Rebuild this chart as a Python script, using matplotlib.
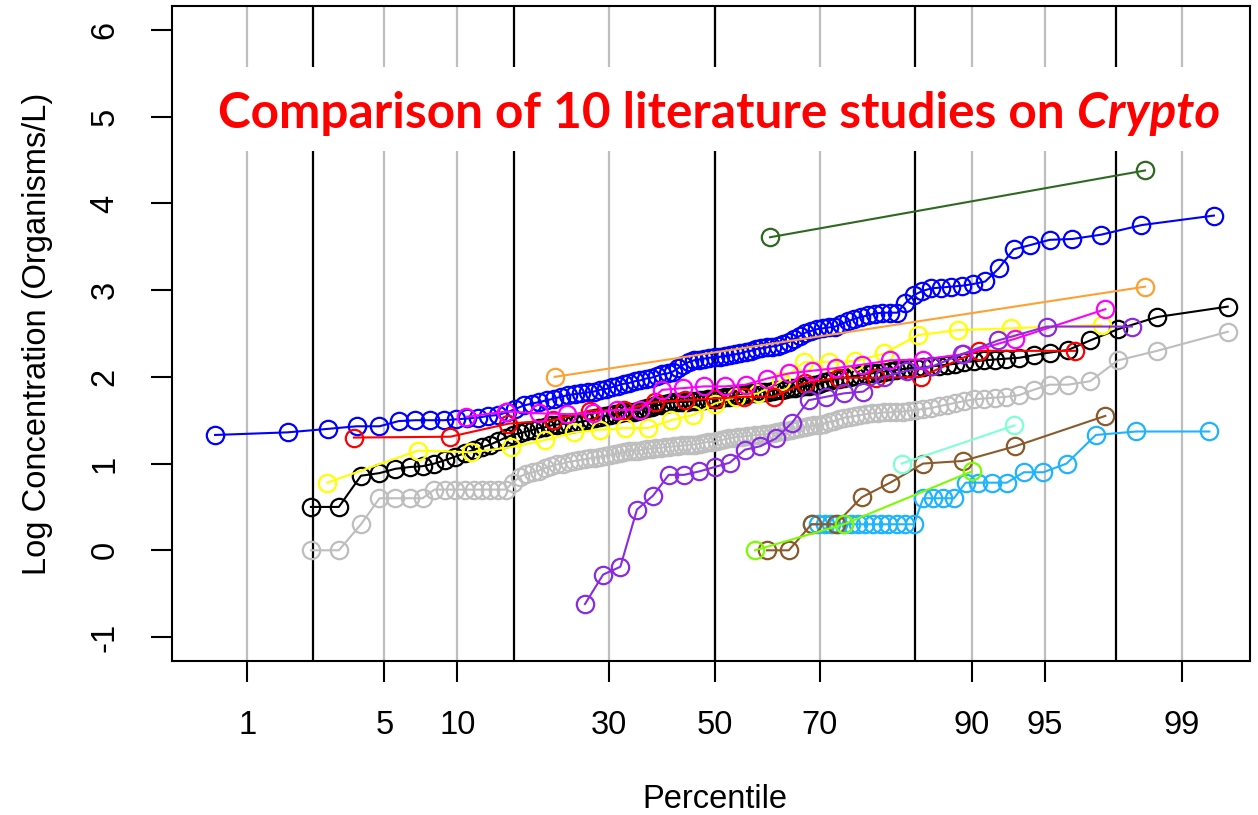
import matplotlib
matplotlib.use("Agg")
import matplotlib.pyplot as plt
from matplotlib.patches import Rectangle
from statistics import NormalDist

# ---------------- data ----------------
pct_ticks = [1, 5, 10, 30, 50, 70, 90, 95, 99]
pct_tick_labels = ["1", "5", "10", "30", "50", "70", "90", "95", "99"]
y_ticks = [-1, 0, 1, 2, 3, 4, 5, 6]

# Series plotted at Blom plotting positions: sample size n, first plotted rank, sorted values
blue_n, blue_first = 97, 1
blue_vals = [1.33, 1.36, 1.40, 1.43, 1.43, 1.49, 1.50, 1.50, 1.50, 1.51,
             1.52, 1.53, 1.55, 1.56, 1.59, 1.63, 1.67, 1.69, 1.71, 1.73,
             1.75, 1.77, 1.79, 1.80, 1.81, 1.82, 1.83, 1.85, 1.86, 1.88,
             1.90, 1.92, 1.93, 1.95, 1.96, 1.98, 1.99, 2.01, 2.03, 2.04,
             2.06, 2.10, 2.14, 2.17, 2.19, 2.20, 2.21, 2.22, 2.23, 2.23,
             2.24, 2.25, 2.26, 2.27, 2.29, 2.30, 2.32, 2.33, 2.34, 2.35,
             2.36, 2.38, 2.40, 2.44, 2.47, 2.51, 2.53, 2.55, 2.56, 2.57,
             2.58, 2.61, 2.64, 2.67, 2.69, 2.71, 2.73, 2.74, 2.74, 2.74,
             2.85, 2.94, 2.99, 3.02, 3.03, 3.04, 3.05, 3.07, 3.10, 3.25,
             3.47, 3.52, 3.58, 3.59, 3.64, 3.75, 3.86]

black_n, black_first = 118, 3
black_vals = [0.50, 0.50, 0.86, 0.89, 0.94, 0.96, 0.97, 1.00, 1.04, 1.08,
              1.12, 1.16, 1.19, 1.22, 1.26, 1.30, 1.33, 1.35, 1.37, 1.39,
              1.41, 1.42, 1.44, 1.45, 1.46, 1.46, 1.47, 1.48, 1.49, 1.51,
              1.52, 1.54, 1.55, 1.56, 1.57, 1.58, 1.59, 1.60, 1.60, 1.61,
              1.63, 1.64, 1.65, 1.67, 1.68, 1.69, 1.70, 1.71, 1.71, 1.71,
              1.71, 1.72, 1.72, 1.73, 1.73, 1.74, 1.75, 1.75, 1.76, 1.77,
              1.77, 1.78, 1.79, 1.79, 1.80, 1.81, 1.81, 1.82, 1.83, 1.83,
              1.84, 1.85, 1.85, 1.86, 1.87, 1.87, 1.88, 1.89, 1.90, 1.91,
              1.92, 1.94, 1.95, 1.97, 1.98, 1.99, 2.00, 2.01, 2.02, 2.03,
              2.04, 2.05, 2.06, 2.07, 2.08, 2.09, 2.10, 2.10, 2.11, 2.12,
              2.13, 2.14, 2.15, 2.17, 2.18, 2.19, 2.20, 2.21, 2.22, 2.25,
              2.28, 2.31, 2.42, 2.55, 2.69, 2.81]

gray_n, gray_first = 118, 3
gray_vals = [0.00, 0.00, 0.30, 0.60, 0.60, 0.60, 0.60, 0.70, 0.70, 0.70,
             0.70, 0.70, 0.70, 0.70, 0.70, 0.70, 0.78, 0.85, 0.88, 0.90,
             0.92, 0.95, 0.97, 0.99, 1.00, 1.02, 1.03, 1.04, 1.05, 1.06,
             1.07, 1.08, 1.09, 1.10, 1.11, 1.12, 1.13, 1.14, 1.15, 1.15,
             1.16, 1.17, 1.17, 1.18, 1.18, 1.19, 1.19, 1.20, 1.20, 1.21,
             1.21, 1.22, 1.22, 1.23, 1.24, 1.25, 1.25, 1.26, 1.27, 1.28,
             1.29, 1.30, 1.31, 1.31, 1.32, 1.32, 1.33, 1.33, 1.34, 1.34,
             1.35, 1.36, 1.37, 1.38, 1.39, 1.40, 1.41, 1.42, 1.43, 1.44,
             1.45, 1.46, 1.48, 1.49, 1.51, 1.53, 1.54, 1.55, 1.56, 1.57,
             1.58, 1.58, 1.59, 1.59, 1.60, 1.60, 1.61, 1.62, 1.63, 1.64,
             1.66, 1.68, 1.70, 1.72, 1.74, 1.75, 1.76, 1.77, 1.79, 1.85,
             1.91, 1.91, 1.95, 2.19, 2.30, 2.52]

red_n, red_first = 17, 1
red_vals = [1.30, 1.31, 1.46, 1.50, 1.61, 1.62, 1.71, 1.73, 1.75, 1.77,
            1.77, 1.93, 1.99, 1.99, 2.00, 2.30, 2.30]

yellow_n, yellow_first = 23, 1
yellow_vals = [0.78, 1.15, 1.13, 1.19, 1.27, 1.36, 1.39, 1.41, 1.41, 1.50,
               1.56, 1.69, 1.77, 1.81, 1.95, 2.17, 2.17, 2.18, 2.27, 2.48,
               2.54, 2.56, 2.60]

magenta_n, magenta_first = 24, 3
magenta_vals = [1.54, 1.60, 1.58, 1.57, 1.58, 1.62, 1.62, 1.85, 1.87, 1.89,
                1.89, 1.91, 1.98, 2.04, 2.07, 2.10, 2.14, 2.19, 2.20, 2.26,
                2.44, 2.78]

purple_n, purple_first = 33, 9
purple_vals = [-0.62, -0.28, -0.19, 0.47, 0.63, 0.87, 0.87, 0.91, 0.96, 1.01,
               1.16, 1.20, 1.29, 1.47, 1.73, 1.77, 1.81, 1.83, 2.00, 2.07,
               2.12, 2.26, 2.42, 2.58, 2.58]

skyblue_n, skyblue_first = 91, 63
skyblue_vals = [0.30, 0.30, 0.30, 0.30, 0.30, 0.30, 0.30, 0.30, 0.30, 0.30,
                0.30, 0.30, 0.30, 0.30, 0.30, 0.60, 0.60, 0.60, 0.60, 0.78,
                0.78, 0.78, 0.78, 0.90, 0.90, 1.00, 1.33, 1.37, 1.37]

brown_n, brown_first = 24, 15
brown_vals = [0.00, 0.00, 0.30, 0.30, 0.61, 0.78, 1.00, 1.03, 1.20, 1.55]

lawngreen_n, lawngreen_first = 6, 4
lawngreen_vals = [0.00, 0.30, 0.91]

aqua_n, aqua_first = 9, 8
aqua_vals = [1.00, 1.44]

# Series given directly as percentiles
orange_pct = [21.3, 98.4]
orange_vals = [2.00, 3.04]
darkgreen_pct = [60.9, 98.4]
darkgreen_vals = [3.61, 4.38]

# ---------------- helpers ----------------
_nd = NormalDist()


def probit(p):
    return _nd.inv_cdf(p / 100.0)


def blom_pct(n, first, count):
    return [100.0 * (r - 0.375) / (n + 0.25) for r in range(first, first + count)]


# ---------------- figure ----------------
W, H = 1258, 815
fig = plt.figure(figsize=(W / 100, H / 100), dpi=100)
ax_left, ax_right, ax_top, ax_bottom = 172, 1250, 5.7, 661.3
ax = fig.add_axes([ax_left / W, 1 - ax_bottom / H,
                   (ax_right - ax_left) / W, (ax_bottom - ax_top) / H])

# probit scale: z = (px - 714.5) / 200.75
ax.set_xlim((ax_left - 714.5) / 200.75, (ax_right - 714.5) / 200.75)
ax.set_ylim(-1.28, 6.28)

# reference lines
for p in pct_ticks:
    ax.axvline(probit(p), color="#BEBEBE", lw=1.6, zorder=1)
for z in [-2, -1, 0, 1, 2]:
    ax.axvline(z, color="black", lw=1.6, zorder=1.5)

mk = dict(marker="o", markerfacecolor="none", markersize=12.5,
          markeredgewidth=1.6, linewidth=1.5)


def draw(pcts, vals, color, z):
    xs = [probit(p) for p in pcts]
    ax.plot(xs, vals, color=color, markeredgecolor=color, zorder=z, **mk)


series = [
    (blom_pct(gray_n, gray_first, len(gray_vals)), gray_vals, "#BEBEBE"),
    (blom_pct(black_n, black_first, len(black_vals)), black_vals, "black"),
    (blom_pct(blue_n, blue_first, len(blue_vals)), blue_vals, "#0000FF"),
    (blom_pct(yellow_n, yellow_first, len(yellow_vals)), yellow_vals, "#FFFF00"),
    (blom_pct(red_n, red_first, len(red_vals)), red_vals, "#FF0000"),
    (blom_pct(magenta_n, magenta_first, len(magenta_vals)), magenta_vals, "#FF00FF"),
    (blom_pct(purple_n, purple_first, len(purple_vals)), purple_vals, "#8A2BE2"),
    (orange_pct, orange_vals, "#FFA030"),
    (darkgreen_pct, darkgreen_vals, "#2D6A1F"),
    (blom_pct(skyblue_n, skyblue_first, len(skyblue_vals)), skyblue_vals, "#1EB4FF"),
    (blom_pct(brown_n, brown_first, len(brown_vals)), brown_vals, "#8B5A2B"),
    (blom_pct(lawngreen_n, lawngreen_first, len(lawngreen_vals)), lawngreen_vals, "#7CFC00"),
    (blom_pct(aqua_n, aqua_first, len(aqua_vals)), aqua_vals, "#7FFFD4"),
]
for i, (p, v, c) in enumerate(series):
    draw(p, v, c, 3 + i * 0.01)

# axes styling
for s in ax.spines.values():
    s.set_linewidth(1.5)
    s.set_color("black")
    s.set_zorder(10)

fs = 23.5
ax.set_xticks([probit(p) for p in pct_ticks])
ax.set_xticklabels(pct_tick_labels, fontsize=fs, family="Liberation Sans")
ax.set_yticks(y_ticks)
ax.set_yticklabels([str(v) for v in y_ticks], fontsize=fs, family="Liberation Sans",
                   rotation=90, va="center")
ax.tick_params(axis="x", length=15, width=1.5, pad=20, top=False)
ax.tick_params(axis="y", length=15, width=1.5, pad=22, right=False)

fig.text(714.5 / W, 1 - 800 / H, "Percentile", fontsize=fs, family="Liberation Sans",
         ha="center", va="center")
fig.text(38 / W, 1 - 333.5 / H, "Log Concentration (Organisms/L)", fontsize=fs,
         family="Liberation Sans", rotation=90, ha="center", va="center")

# title with white backing box
ax.add_patch(Rectangle((208 / W, 1 - 151 / H), (1232 - 208) / W, (151 - 67) / H,
                       transform=fig.transFigure, facecolor="white", edgecolor="none",
                       zorder=20, clip_on=False))
title_fs = 31
t1 = fig.text(218 / W, 1 - 128 / H, "Comparison of 10 literature studies on",
              fontsize=title_fs, fontweight="bold", color="#FF0000", family="Lato",
              ha="left", va="baseline", zorder=21)
t2 = ax.annotate("Crypto", xy=(1, 0), xycoords=t1, xytext=(8, 0), textcoords="offset points",
                 fontsize=title_fs, fontweight="bold", fontstyle="italic", color="#FF0000",
                 family="Lato", ha="left", va="bottom", zorder=21, annotation_clip=False)

# fit title width to ~1002 px
fig.canvas.draw()
r = fig.canvas.get_renderer()
w = t2.get_window_extent(r).x1 - t1.get_window_extent(r).x0
scale = 1002.0 / w
t1.set_fontsize(title_fs * scale)
t2.set_fontsize(title_fs * scale)
t2.xyann = (8 * scale, 0)

fig.savefig("out.png", dpi=100)
